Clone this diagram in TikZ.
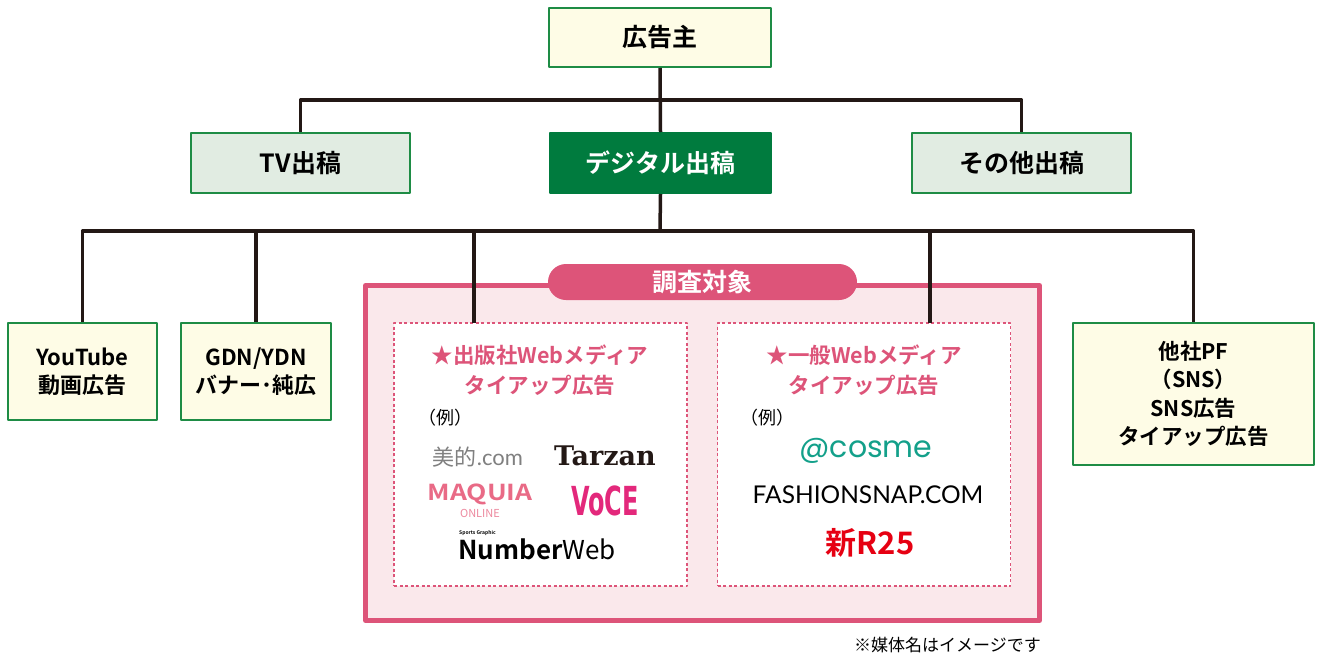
\documentclass[tikz,border=0pt]{standalone}
\usepackage{fontspec}
\setmainfont{Noto Sans CJK JP}[BoldFont={Noto Sans CJK JP Bold}]
\newfontfamily\serifbold{DejaVu Serif}
\newfontfamily\poppins{Poppins}
\newfontfamily\lato{Lato}
\newfontfamily\dejasans{DejaVu Sans}
\definecolor{boxgreen}{HTML}{1E8C45}
\definecolor{darkgreen}{HTML}{007B3E}
\definecolor{paleyellow}{HTML}{FEFCE6}
\definecolor{palegreen}{HTML}{E1ECE2}
\definecolor{mpink}{HTML}{DD5479}
\definecolor{palepink}{HTML}{FAE8EB}
\definecolor{linecol}{HTML}{231815}
\definecolor{maquiapink}{HTML}{E96A86}
\definecolor{vocepink}{HTML}{E3287B}
\definecolor{cosmeteal}{HTML}{13A08A}
\definecolor{rtwored}{HTML}{E60012}
\begin{document}
\begin{tikzpicture}[x=1pt,y=-1pt,font=\bfseries,line join=round]
				\tikzset{every node/.style={inner sep=0pt,align=center},
					ybox/.style={draw=boxgreen,line width=2pt,fill=paleyellow,font=\fontsize{22}{28}\selectfont\bfseries},
					gbox/.style={draw=boxgreen,line width=2pt,fill=palegreen,minimum width=219,minimum height=60,font=\fontsize{25}{30}\selectfont\bfseries},
					dbox/.style={draw=mpink,line width=1.5pt,fill=white,dash pattern=on 3pt off 2.5pt,minimum width=293,minimum height=263},
					ptitle/.style={text=mpink,font=\fontsize{21.5}{30}\selectfont\bfseries},
					rei/.style={anchor=west,font=\fontsize{18}{18}\selectfont\mdseries},
					conn/.style={draw=linecol,line width=3.5pt}}
				\useasboundingbox (0,0) rectangle (1317,656);
				\node[ybox,minimum width=222,minimum height=59,font=\fontsize{25}{30}\selectfont\bfseries] (koukoku) at (660,37.5) {広告主};
				\node[gbox] (tv) at (300.5,163) {TV出稿};
				\node[gbox,fill=darkgreen,draw=darkgreen,text=white,minimum width=221] (digital) at (660.5,163) {デジタル出稿};
				\node[gbox] (sonota) at (1021.5,163) {その他出稿};
				\node[ybox,minimum width=149,minimum height=97] (youtube) at (82.5,371.5) {YouTube\\動画広告};
				\node[ybox,minimum width=150,minimum height=97] (gdn) at (256,371.5) {GDN/YDN\\バナー･純広};
				\node[ybox,minimum width=241,minimum height=142,font=\fontsize{21.5}{28.5}\selectfont\bfseries] (pf) at (1193.5,394) {他社PF\\（SNS）\\SNS広告\\タイアップ広告};
				\node[draw=mpink,line width=5pt,fill=palepink,minimum width=674,minimum height=335] (survey) at (702.5,453) {};
				\node[fill=mpink,rounded corners=18pt,minimum width=309,minimum height=36,text=white,font=\fontsize{25}{25}\selectfont\bfseries] (target) at (702.5,282) {調査対象};
				\node[dbox] (pubmedia) at (540.5,454.5) {};
				\node[dbox] (genmedia) at (864,454.5) {};
				\node[ptitle] (pubtitle) at (540,370) {★出版社Webメディア\\タイアップ広告};
				\node[ptitle] (gentitle) at (864,370) {★一般Webメディア\\タイアップ広告};
				\node[rei] (pubrei) at (418,418) {（例）};
				\node[rei] (genrei) at (740,418) {（例）};
				\node[text=gray,font=\fontsize{22}{22}\selectfont\mdseries] (biteki) at (478,457) {美的{\lato.com}};
				\node[font=\serifbold\bfseries\fontsize{27}{27}\selectfont,text=linecol] (tarzan) at (605,456) {Tarzan};
				\node[text=maquiapink,font=\fontsize{22}{22}\selectfont\bfseries] (maquia) at (480,494) {\scalebox{1.2}[1]{MAQUIA}};
				\node[text=maquiapink!80,font=\fontsize{11}{11}\selectfont\mdseries] (online) at (480,513) {ONLINE};
				\node[text=vocepink,font=\dejasans\bfseries\fontsize{40}{40}\selectfont] (voce) at (605,501) {\scalebox{0.6}[1]{VoCE}};
				\node[font=\fontsize{26}{26}\selectfont] (number) at (537,549) {{\bfseries Number}{\mdseries Web}};
				\node[font=\fontsize{5}{5}\selectfont\bfseries,anchor=south west] (sports) at (459,536) {Sports Graphic};
				\node[text=cosmeteal,font=\poppins\fontsize{30}{30}\selectfont\mdseries] (cosme) at (866,451) {@cosme};
				\node[font=\lato\fontsize{24.5}{24.5}\selectfont\mdseries] (fsnap) at (868,495) {FASHIONSNAP.COM};
				\node[text=rtwored,font=\fontsize{31}{31}\selectfont\bfseries] (rtwo) at (870,543) {新R25};
				\node[anchor=east,font=\fontsize{17}{17}\selectfont\mdseries] (note) at (1041,645) {※媒体名はイメージです};
				\coordinate (bus1) at (660,100);
				\coordinate (bus2) at (660,231);
				\coordinate (pubdrop) at (474,323);
				\coordinate (gendrop) at (930,323);
				\draw[conn] (koukoku.south) -- (digital.north);
				\draw[conn] (tv.north) |- (bus1) -| (sonota.north);
				\draw[conn] (digital.south) -- (bus2);
				\draw[conn] (youtube.north) |- (bus2) -| (pf.north);
				\draw[conn] (gdn.north) -- (gdn.north |- bus2);
				\draw[conn] (pubdrop) -- (pubdrop |- bus2);
				\draw[conn] (gendrop) -- (gendrop |- bus2);
			\end{tikzpicture}
\end{document}
